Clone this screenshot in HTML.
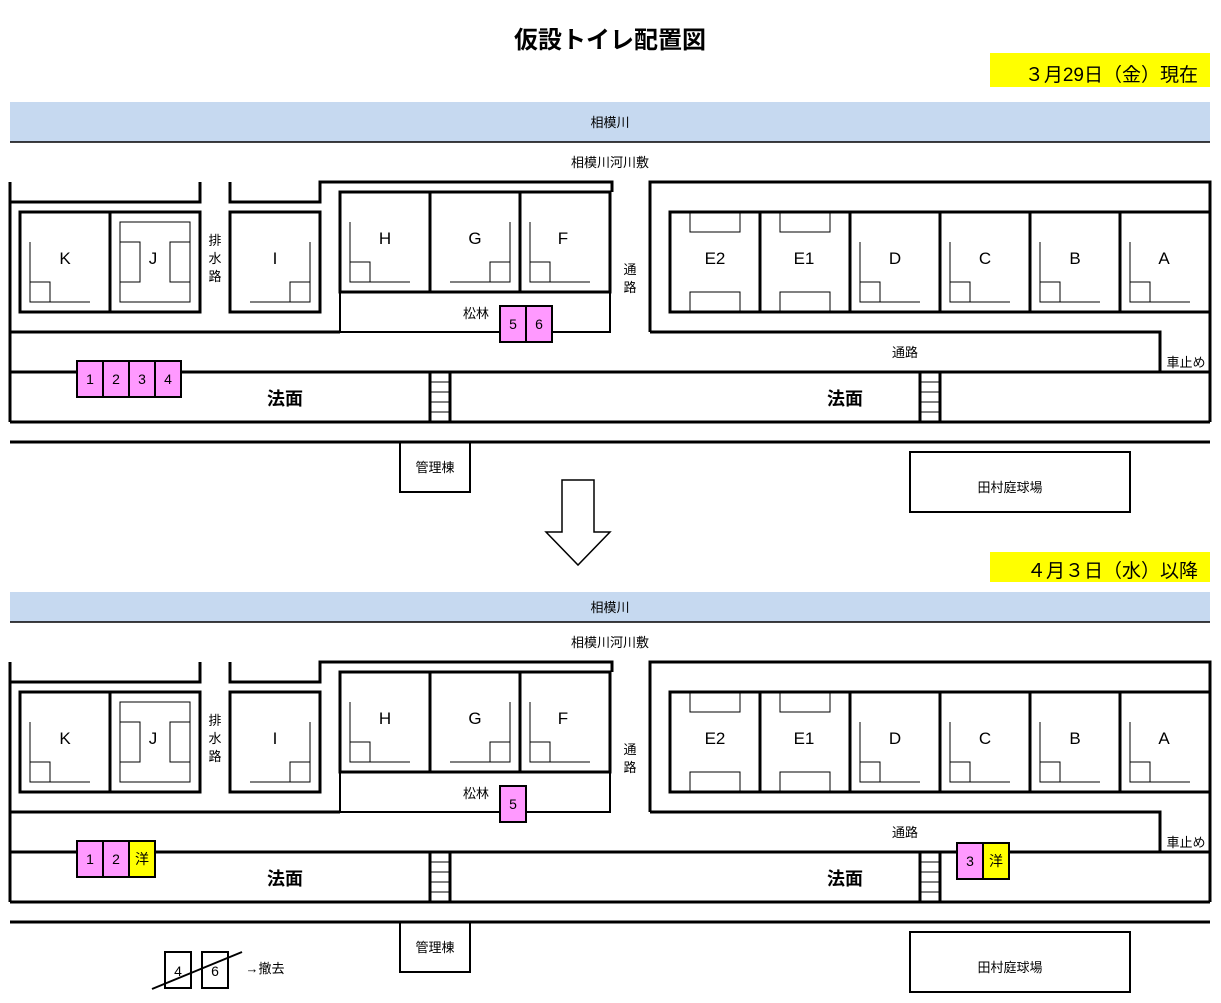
<!DOCTYPE html>
<html><head><meta charset="utf-8"><style>
html,body{margin:0;padding:0;background:#fff;width:1221px;height:1003px;overflow:hidden}
svg text{font-family:"Liberation Sans","Noto Sans CJK JP",sans-serif;fill:#000}
</style></head><body>
<svg width="1221" height="1003" viewBox="0 0 1221 1003" xmlns="http://www.w3.org/2000/svg">
<defs>
<g id="map" fill="none" stroke="#000">
  <text x="610" y="167" font-size="13" text-anchor="middle" stroke="none">相模川河川敷</text>
  <!-- left outer -->
  <g stroke-width="3">
    <polyline points="10,182 10,422"/>
    <polyline points="10,202 200,202 200,182"/>
    <polyline points="230,182 230,202 320,202 320,182 612,182 612,192"/>
    <line x1="10" y1="332" x2="340" y2="332"/>
    <rect x="340" y="192" width="270" height="140" stroke-width="2"/>
    <line x1="340" y1="292" x2="610" y2="292"/>
    <rect x="20" y="212" width="180" height="100"/>
    <line x1="110" y1="212" x2="110" y2="312"/>
    <rect x="230" y="212" width="90" height="100"/>
    <line x1="430" y1="192" x2="430" y2="292"/>
    <line x1="520" y1="192" x2="520" y2="292"/>
    <rect x="340" y="192" width="270" height="100"/>
    <!-- right block -->
    <polyline points="650,332 650,182 1210,182 1210,422"/>
    <polyline points="650,332 1160,332 1160,372"/>
    <rect x="670" y="212" width="540" height="100"/>
    <line x1="760" y1="212" x2="760" y2="312"/>
    <line x1="850" y1="212" x2="850" y2="312"/>
    <line x1="940" y1="212" x2="940" y2="312"/>
    <line x1="1030" y1="212" x2="1030" y2="312"/>
    <line x1="1120" y1="212" x2="1120" y2="312"/>
    <line x1="10" y1="372" x2="1210" y2="372"/>
    <line x1="10" y1="422" x2="1210" y2="422"/>
    <line x1="10" y1="442" x2="1210" y2="442"/>
    <rect x="430" y="372" width="20" height="50"/>
    <rect x="920" y="372" width="20" height="50"/>
  </g>
  <g stroke-width="1">
    <line x1="430" y1="382" x2="450" y2="382"/><line x1="430" y1="392" x2="450" y2="392"/><line x1="430" y1="402" x2="450" y2="402"/><line x1="430" y1="412" x2="450" y2="412"/>
    <line x1="920" y1="382" x2="940" y2="382"/><line x1="920" y1="392" x2="940" y2="392"/><line x1="920" y1="402" x2="940" y2="402"/><line x1="920" y1="412" x2="940" y2="412"/>
    <!-- K -->
    <polyline points="30,242 30,302 90,302"/><rect x="30" y="282" width="20" height="20"/>
    <!-- J -->
    <rect x="120" y="222" width="70" height="80"/><rect x="120" y="242" width="20" height="40"/><rect x="170" y="242" width="20" height="40"/>
    <!-- I -->
    <polyline points="310,242 310,302 250,302"/><rect x="290" y="282" width="20" height="20"/>
    <!-- H -->
    <polyline points="350,222 350,282 410,282"/><rect x="350" y="262" width="20" height="20"/>
    <!-- G -->
    <polyline points="510,222 510,282 450,282"/><rect x="490" y="262" width="20" height="20"/>
    <!-- F -->
    <polyline points="530,222 530,282 590,282"/><rect x="530" y="262" width="20" height="20"/>
    <!-- E2 E1 -->
    <rect x="690" y="212" width="50" height="20"/><rect x="690" y="292" width="50" height="20"/>
    <rect x="780" y="212" width="50" height="20"/><rect x="780" y="292" width="50" height="20"/>
    <!-- D C B A -->
    <polyline points="860,242 860,302 920,302"/><rect x="860" y="282" width="20" height="20"/>
    <polyline points="950,242 950,302 1010,302"/><rect x="950" y="282" width="20" height="20"/>
    <polyline points="1040,242 1040,302 1100,302"/><rect x="1040" y="282" width="20" height="20"/>
    <polyline points="1130,242 1130,302 1190,302"/><rect x="1130" y="282" width="20" height="20"/>
    <rect x="400" y="442" width="70" height="50" stroke-width="2"/>
    <rect x="910" y="452" width="220" height="60" stroke-width="2"/>
  </g>
  <g stroke="none" font-size="17" text-anchor="middle">
    <text x="65" y="264">K</text><text x="153" y="264">J</text><text x="275" y="264">I</text>
    <text x="385" y="244">H</text><text x="475" y="244">G</text><text x="563" y="244">F</text>
    <text x="715" y="264">E2</text><text x="804" y="264">E1</text><text x="895" y="264">D</text>
    <text x="985" y="264">C</text><text x="1075" y="264">B</text><text x="1164" y="264">A</text>
  </g>
  <g stroke="none" font-size="13" text-anchor="middle">
    <text x="215" y="245">排</text><text x="215" y="263">水</text><text x="215" y="281">路</text>
    <text x="630" y="274">通</text><text x="630" y="292">路</text>
    <text x="476" y="318">松林</text>
    <text x="905" y="357">通路</text>
    <text x="1186" y="367">車止め</text>
    <text x="435" y="472">管理棟</text>
    <text x="1010" y="492">田村庭球場</text>
  </g>
  <g stroke="none" font-size="18" font-weight="bold" text-anchor="middle">
    <text x="285" y="405">法面</text><text x="845" y="405">法面</text>
  </g>
</g>
</defs>

<text x="610" y="48" font-size="24" font-weight="bold" text-anchor="middle">仮設トイレ配置図</text>
<rect x="990" y="53" width="220" height="34" fill="#ffff00"/>
<text x="1198" y="81" font-size="19" text-anchor="end">３月29日（金）現在</text>
<rect x="10" y="102" width="1200" height="40" fill="#c6d9f0"/>
<line x1="10" y1="142" x2="1210" y2="142" stroke="#000" stroke-width="1.5"/>
<text x="610" y="127" font-size="13" text-anchor="middle">相模川</text>

<use href="#map"/>

<g stroke="#000" stroke-width="2" font-size="14">
  <rect x="77" y="361" width="26" height="36" fill="#ff99ff"/>
  <rect x="103" y="361" width="26" height="36" fill="#ff99ff"/>
  <rect x="129" y="361" width="26" height="36" fill="#ff99ff"/>
  <rect x="155" y="361" width="26" height="36" fill="#ff99ff"/>
  <rect x="500" y="306" width="26" height="36" fill="#ff99ff"/>
  <rect x="526" y="306" width="26" height="36" fill="#ff99ff"/>
</g>
<g font-size="14" text-anchor="middle">
  <text x="90" y="384">1</text><text x="116" y="384">2</text><text x="142" y="384">3</text><text x="168" y="384">4</text>
  <text x="513" y="329">5</text><text x="539" y="329">6</text>
</g>

<!-- arrow -->
<polygon points="562,480 594,480 594,532 610,532 578,565 546,532 562,532" fill="#fff" stroke="#000" stroke-width="1.5"/>

<rect x="990" y="552" width="220" height="30" fill="#ffff00"/>
<text x="1198" y="577" font-size="19" text-anchor="end">４月３日（水）以降</text>
<rect x="10" y="592" width="1200" height="30" fill="#c6d9f0"/>
<line x1="10" y1="622" x2="1210" y2="622" stroke="#000" stroke-width="1.5"/>
<text x="610" y="612" font-size="13" text-anchor="middle">相模川</text>

<g transform="translate(0,480)"><use href="#map"/></g>

<g stroke="#000" stroke-width="2">
  <rect x="77" y="841" width="26" height="36" fill="#ff99ff"/>
  <rect x="103" y="841" width="26" height="36" fill="#ff99ff"/>
  <rect x="129" y="841" width="26" height="36" fill="#ffff00"/>
  <rect x="500" y="786" width="26" height="36" fill="#ff99ff"/>
  <rect x="957" y="843" width="26" height="36" fill="#ff99ff"/>
  <rect x="983" y="843" width="26" height="36" fill="#ffff00"/>
  <rect x="165" y="952" width="26" height="36" fill="#fff"/>
  <rect x="202" y="952" width="26" height="36" fill="#fff"/>
</g>
<g font-size="14" text-anchor="middle">
  <text x="90" y="864">1</text><text x="116" y="864">2</text><text x="142" y="864">洋</text>
  <text x="513" y="809">5</text>
  <text x="970" y="866">3</text><text x="996" y="866">洋</text>
  <text x="178" y="976">4</text><text x="215" y="976">6</text>
  <text x="265" y="973" font-size="13">→撤去</text>
</g>
<line x1="152" y1="989" x2="242" y2="952" stroke="#000" stroke-width="2"/>
</svg>
</body></html>
